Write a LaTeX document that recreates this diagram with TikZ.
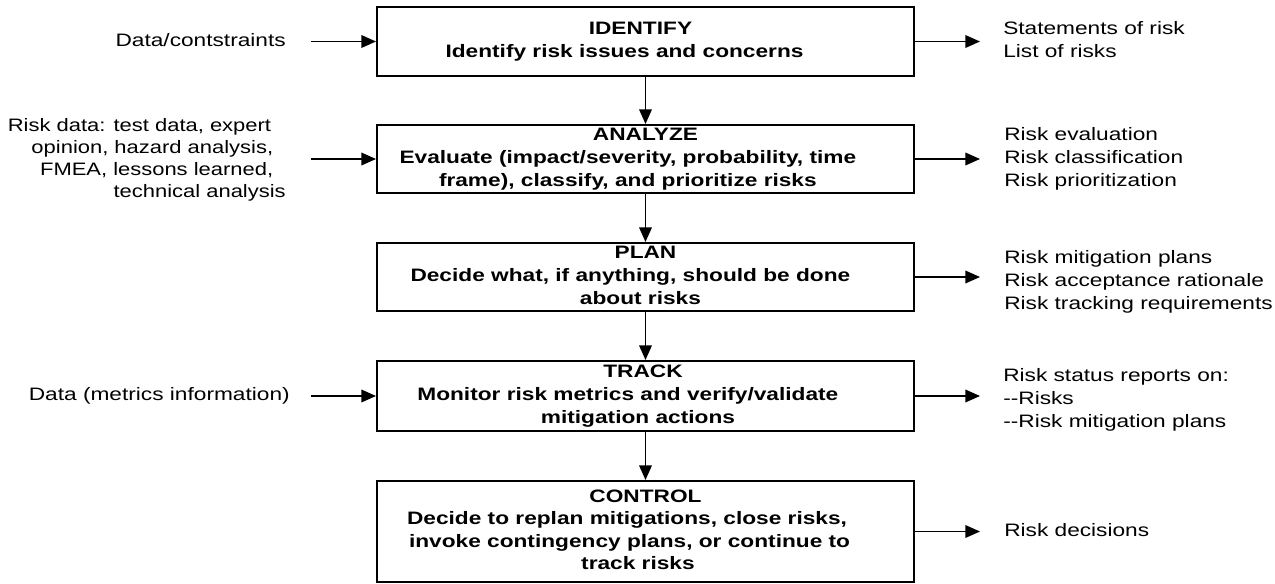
\documentclass[tikz,border=0pt]{standalone}
\usepackage{fontspec}
\setmainfont{Liberation Sans}
\usepackage{graphicx}
\usetikzlibrary{arrows.meta}

\newcommand\sxc[1]{\scalebox{1.26}[1]{\begin{tabular}{@{}c@{}}#1\end{tabular}}}
\newcommand\sxl[1]{\scalebox{1.26}[1]{\begin{tabular}{@{}l@{}}#1\end{tabular}}}
\newcommand\sxr[1]{\scalebox{1.26}[1]{\begin{tabular}{@{}r@{}}#1\end{tabular}}}
\newcommand\sxrn[1]{\scalebox{1.22}[1]{\begin{tabular}{@{}r@{}}#1\end{tabular}}}
\newcommand\tr[1]{\hspace*{#1}}

\tikzset{
  box/.style={draw, line width=1.5pt, minimum width=402.75pt, inner sep=0pt,
    font=\bfseries\fontsize{13.5}{16.9}\selectfont},
  outtxt/.style={anchor=west, inner sep=0pt, font=\fontsize{13.5}{17.25}\selectfont},
  intxt/.style={anchor=east, inner sep=0pt, font=\fontsize{13.5}{16.5}\selectfont},
  arr/.style={line width=1.1pt, -{Triangle[length=11pt,width=9.5pt]}}
}

\begin{document}
\begin{tikzpicture}[x=0.75pt,y=-0.75pt]
\useasboundingbox (0,0) rectangle (1275,583);

% process boxes
\node[box, minimum height=51.75pt] (identify) at (645.5,41.5)
  {\sxc{IDENTIFY\tr{6pt}\\ Identify risk issues and concerns\tr{25pt}}};
\node[box, minimum height=51pt] (analyze) at (645.5,159)
  {\sxc{ANALYZE\\ Evaluate (impact/severity, probability, time\tr{21pt}\\ frame), classify, and prioritize risks\tr{21pt}}};
\node[box, minimum height=51pt] (plan) at (645.5,277)
  {\sxc{PLAN\\ Decide what, if anything, should be done\tr{18pt}\\ about risks\tr{6pt}}};
\node[box, minimum height=52.5pt] (track) at (645.5,396)
  {\sxc{TRACK\tr{3pt}\\ Monitor risk metrics and verify/validate\tr{21pt}\\ mitigation actions\tr{9pt}}};
\node[box, minimum height=75.75pt] (control) at (645.5,531.5)
  {\sxc{CONTROL\\ Decide to replan mitigations, close risks,\tr{22pt}\\ invoke contingency plans, or continue to\tr{19pt}\\ track risks\tr{9pt}}};

% inputs
\node[intxt] (in1) at (286,42) {\sxr{Data/contstraints}};
\node[intxt] (in2) at (286,160) {\sxrn{Risk data: test data, expert\tr{9pt}\\ opinion, hazard analysis,\tr{7.7pt}\\ FMEA, lessons learned,\tr{7.7pt}\\ technical analysis}};
\node[intxt] (in4) at (290,396) {\sxr{Data (metrics information)}};

\coordinate (s1) at (311,41.5);
\coordinate (s2) at (311,159);
\coordinate (s4) at (311,396);

% outputs
\node[outtxt] (out1) at (1003,41.5) {\sxl{Statements of risk\\ List of risks}};
\node[outtxt] (out2) at (1004,159) {\sxl{Risk evaluation\\ Risk classification\\ Risk prioritization}};
\node[outtxt] (out3) at (1004,282) {\sxl{Risk mitigation plans\\ Risk acceptance rationale\\ Risk tracking requirements}};
\node[outtxt] (out4) at (1003,400) {\sxl{Risk status reports on:\\ \mbox{-}\mbox{-}Risks\\ \mbox{-}\mbox{-}Risk mitigation plans}};
\node[outtxt] (out5) at (1004,532) {\sxl{Risk decisions}};

\coordinate (e1) at (980,41.5);
\coordinate (e2) at (980,159);
\coordinate (e3) at (980,277);
\coordinate (e4) at (980,396);
\coordinate (e5) at (980,531.5);

% connectors
\draw[arr] (s1) -- (identify.west);
\draw[arr] (s2) -- (analyze.west);
\draw[arr] (s4) -- (track.west);

\draw[arr] (identify.east) -- (e1);
\draw[arr] (analyze.east) -- (e2);
\draw[arr] (plan.east) -- (e3);
\draw[arr] (track.east) -- (e4);
\draw[arr] (control.east) -- (e5);

\draw[arr] (identify.south) -- (analyze.north);
\draw[arr] (analyze.south) -- (plan.north);
\draw[arr] (plan.south) -- (track.north);
\draw[arr] (track.south) -- (control.north);
\end{tikzpicture}
\end{document}
